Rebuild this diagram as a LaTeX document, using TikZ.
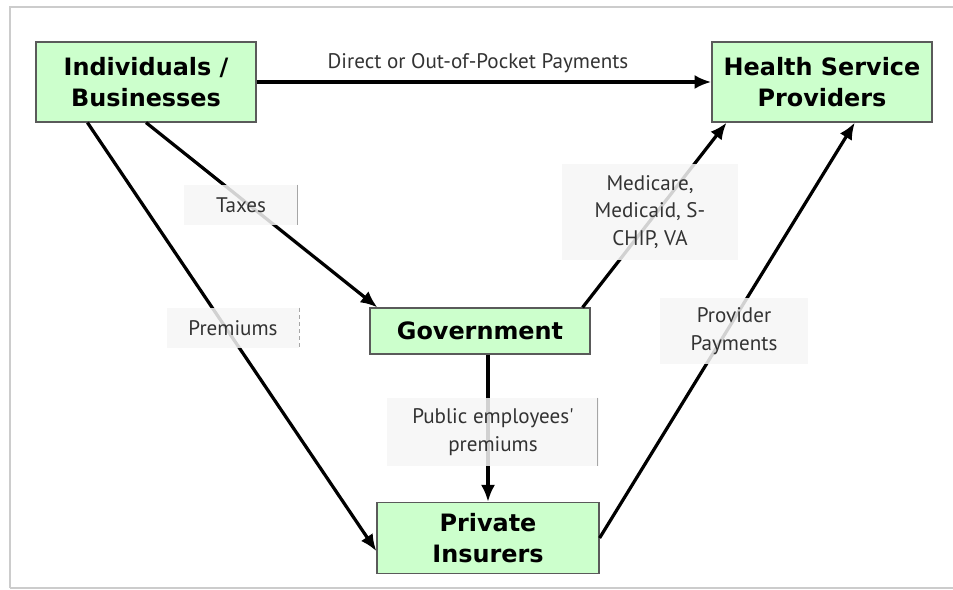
\documentclass[tikz,border=0pt]{standalone}
\usepackage{fontspec}
\newfontfamily\boxfont{DejaVu Sans}
\newfontfamily\lblfont{PT Sans}
\usepackage{xcolor}
\definecolor{boxgreen}{HTML}{CCFFCC}
\definecolor{boxedge}{HTML}{5A5A5A}
\definecolor{lbltext}{HTML}{333333}
\definecolor{lblbg}{HTML}{F6F6F6}
\usepackage{tikz}
\usetikzlibrary{arrows.meta}

\begin{document}
\begin{tikzpicture}[
  x=0.025cm, y=-0.025cm,
  ebox/.style={draw=boxedge, fill=boxgreen, line width=0.8pt, align=center,
               minimum width=5.5cm, inner sep=2pt,
               font=\boxfont\bfseries\fontsize{17}{22.5}\selectfont},
  flow/.style={-{Latex[length=12pt,width=10pt]}, line width=2.3pt},
  lbl/.style={fill=lblbg, fill opacity=0.85, text opacity=1, text=lbltext,
              align=center, inner sep=2pt,
              font=\lblfont\fontsize{15}{19.5}\selectfont},
  tick/.style={draw=gray!70, line width=0.8pt}
]
  \useasboundingbox (0,0) rectangle (953,590);
  \draw[gray!40, line width=1.2pt] (10,588) -- (10,7) -- (965,7);
  \draw[gray!40, line width=1.2pt] (10,588) -- (965,588);

  \node[ebox, minimum height=2cm]    (IB) at (146,82)  {Individuals /\\Businesses};
  \node[ebox, minimum height=2cm]    (HS) at (822,82)  {Health Service\\Providers};
  \node[ebox, minimum height=1.15cm] (G)  at (480,331) {Government};
  \node[ebox, minimum height=1.78cm, minimum width=5.55cm] (PI) at (488,538) {Private\\Insurers};

  \draw[flow, line width=3pt] (IB.east) -- (HS.west);
  \draw[flow] (IB.south) -- ([xshift=0.2cm]G.north west);
  \draw[flow] ([xshift=1.3cm]IB.south west) -- ([yshift=-0.33cm]PI.west);
  \draw[flow] ([xshift=-0.2cm]G.north east) -- ([xshift=0.38cm]HS.south west);
  \draw[flow] (PI.north |- G.south) -- (PI.north);
  \draw[flow] (PI.east) -- ([xshift=0.82cm]HS.south);

  \node[text=lbltext, font=\lblfont\fontsize{15}{19.5}\selectfont] (dp) at (478,63) {Direct or Out-of-Pocket Payments};
  \node[lbl, minimum width=2.83cm, minimum height=1cm]  (tx) at (241,205) {Taxes};
  \node[lbl, minimum width=3.3cm,  minimum height=1cm]  (pr) at (233,328) {Premiums};
  \node[lbl, minimum width=4.4cm,  minimum height=2.4cm] (mc) at (650,212) {Medicare,\\Medicaid, S-\\CHIP, VA};
  \node[lbl, minimum width=3.7cm,  minimum height=1.65cm] (pp) at (734,331) {Provider\\Payments};
  \node[lbl, minimum width=5.3cm,  minimum height=1.7cm] (pe) at (493,432) {Public employees'\\premiums};

  \draw[tick] (tx.north east) -- (tx.south east);
  \draw[tick, densely dashed] (pr.north east) -- (pr.south east);
  \draw[tick] ([xshift=-0.05cm]pe.north east) -- ([xshift=-0.05cm]pe.south east);
\end{tikzpicture}
\end{document}
